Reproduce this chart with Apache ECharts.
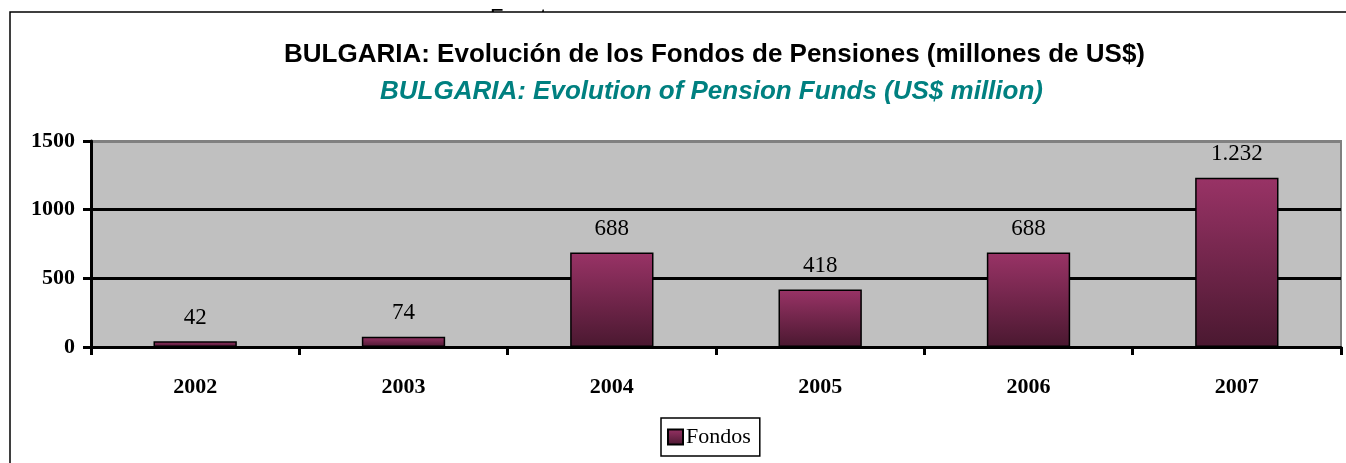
<!DOCTYPE html>
<html>
<head>
<meta charset="utf-8">
<script src="https://cdn.jsdelivr.net/npm/echarts@6/dist/echarts.min.js"></script>
<style>
    html, body { margin:0; padding:0; background:#fff; }
    #chart { width:1346px; height:463px; }
</style>
</head>
<body>
<div id="chart"></div>
<script>
    // datos
    var years = ['2002', '2003', '2004', '2005', '2006', '2007'];
    var fondos = [42, 74, 688, 418, 688, 1232];
    var yTicks = [0, 500, 1000, 1500];

    var chart = echarts.init(document.getElementById('chart'));
    var serif = "'Liberation Serif', 'Times New Roman', serif";
    var sans = "'Liberation Sans', Arial, sans-serif";

    var option = {
        animation:false,
        backgroundColor:'#fff',
        graphic:[
            {   // texto cortado arriba
                type:'text', left:490, top:7,
                style:{ text:'Fuente', font:'22px Liberation Sans, Arial', fill:'#000' }
            },
            {
                type:'rect', silent:true,
                shape:{ x:470, y:12, width:150, height:20 },
                style:{ fill:'#fff' }
            },
            {
                type:'rect', silent:true,
                shape:{ x:10, y:12, width:1400, height:500 },
                style:{ fill:null, stroke:'#000', lineWidth:1.5 }
            }
        ],
        title:[
            {
                left:279, top:37,
                text:'BULGARIA: Evolución de los Fondos de Pensiones (millones de US$)',
                textStyle:{ fontFamily:sans, fontWeight:'bold', fontSize:26, color:'#000' }
            },
            {
                left:375, top:74,
                text:'BULGARIA: Evolution of Pension Funds (US$ million)',
                textStyle:{ fontFamily:sans, fontWeight:'bold', fontStyle:'italic', fontSize:26, color:'#008080' }
            }
        ],
        legend:{
            left:661, top:418,
            icon:'rect',
            itemWidth:15, itemHeight:15, itemGap:4,
            padding:[8, 9, 8, 6],
            borderColor:'#000', borderWidth:1.5,
            textStyle:{ fontFamily:serif, fontSize:22, color:'#000', padding:[0, 0, 0, -2] },
            data:['Fondos']
        },
        grid:{
            left:91, right:5, top:141, bottom:116,
            show:true, backgroundColor:'#c0c0c0',
            borderColor:'#808080', borderWidth:2
        },
        xAxis:{
            type:'category',
            data:years,
            axisLine:{ lineStyle:{ color:'#000', width:3 } },
            axisTick:{ show:true, interval:0, length:8, lineStyle:{ color:'#000', width:3 } },
            axisLabel:{ margin:29, fontFamily:serif, fontWeight:'bold', fontSize:22, color:'#000' }
        },
        yAxis:{
            type:'value',
            min:yTicks[0], max:yTicks[yTicks.length - 1], interval:500,
            axisLine:{ show:true, lineStyle:{ color:'#000', width:3 } },
            axisTick:{ show:true, length:8, lineStyle:{ color:'#000', width:3 } },
            axisLabel:{
                margin:16, fontFamily:serif, fontWeight:'bold', fontSize:22, color:'#000',
                formatter:function(v){ return String(v); }
            },
            splitLine:{ show:true, lineStyle:{ color:['#000', '#000', '#000', '#808080'], width:3 } }
        },
        series:[
            {
                name:'Fondos',
                type:'bar',
                barWidth:'40%',
                data:fondos,
                itemStyle:{
                    borderColor:'#000', borderWidth:1.5,
                    color:new echarts.graphic.LinearGradient(0, 0, 0, 1, [
                        { offset:0, color:'#993366' },
                        { offset:1, color:'#4a1830' }
                    ])
                },
                label:{
                    show:true, position:'top', distance:12,
                    fontFamily:serif, fontSize:23, color:'#000',
                    formatter:function(p){
                        return p.value >= 1000 ? Math.floor(p.value / 1000) + '.' + String(p.value % 1000).padStart(3, '0') : p.value;
                    }
                }
            }
        ]
    };

    chart.setOption(option);
    window.addEventListener('resize', chart.resize);
</script>
</body>
</html>
